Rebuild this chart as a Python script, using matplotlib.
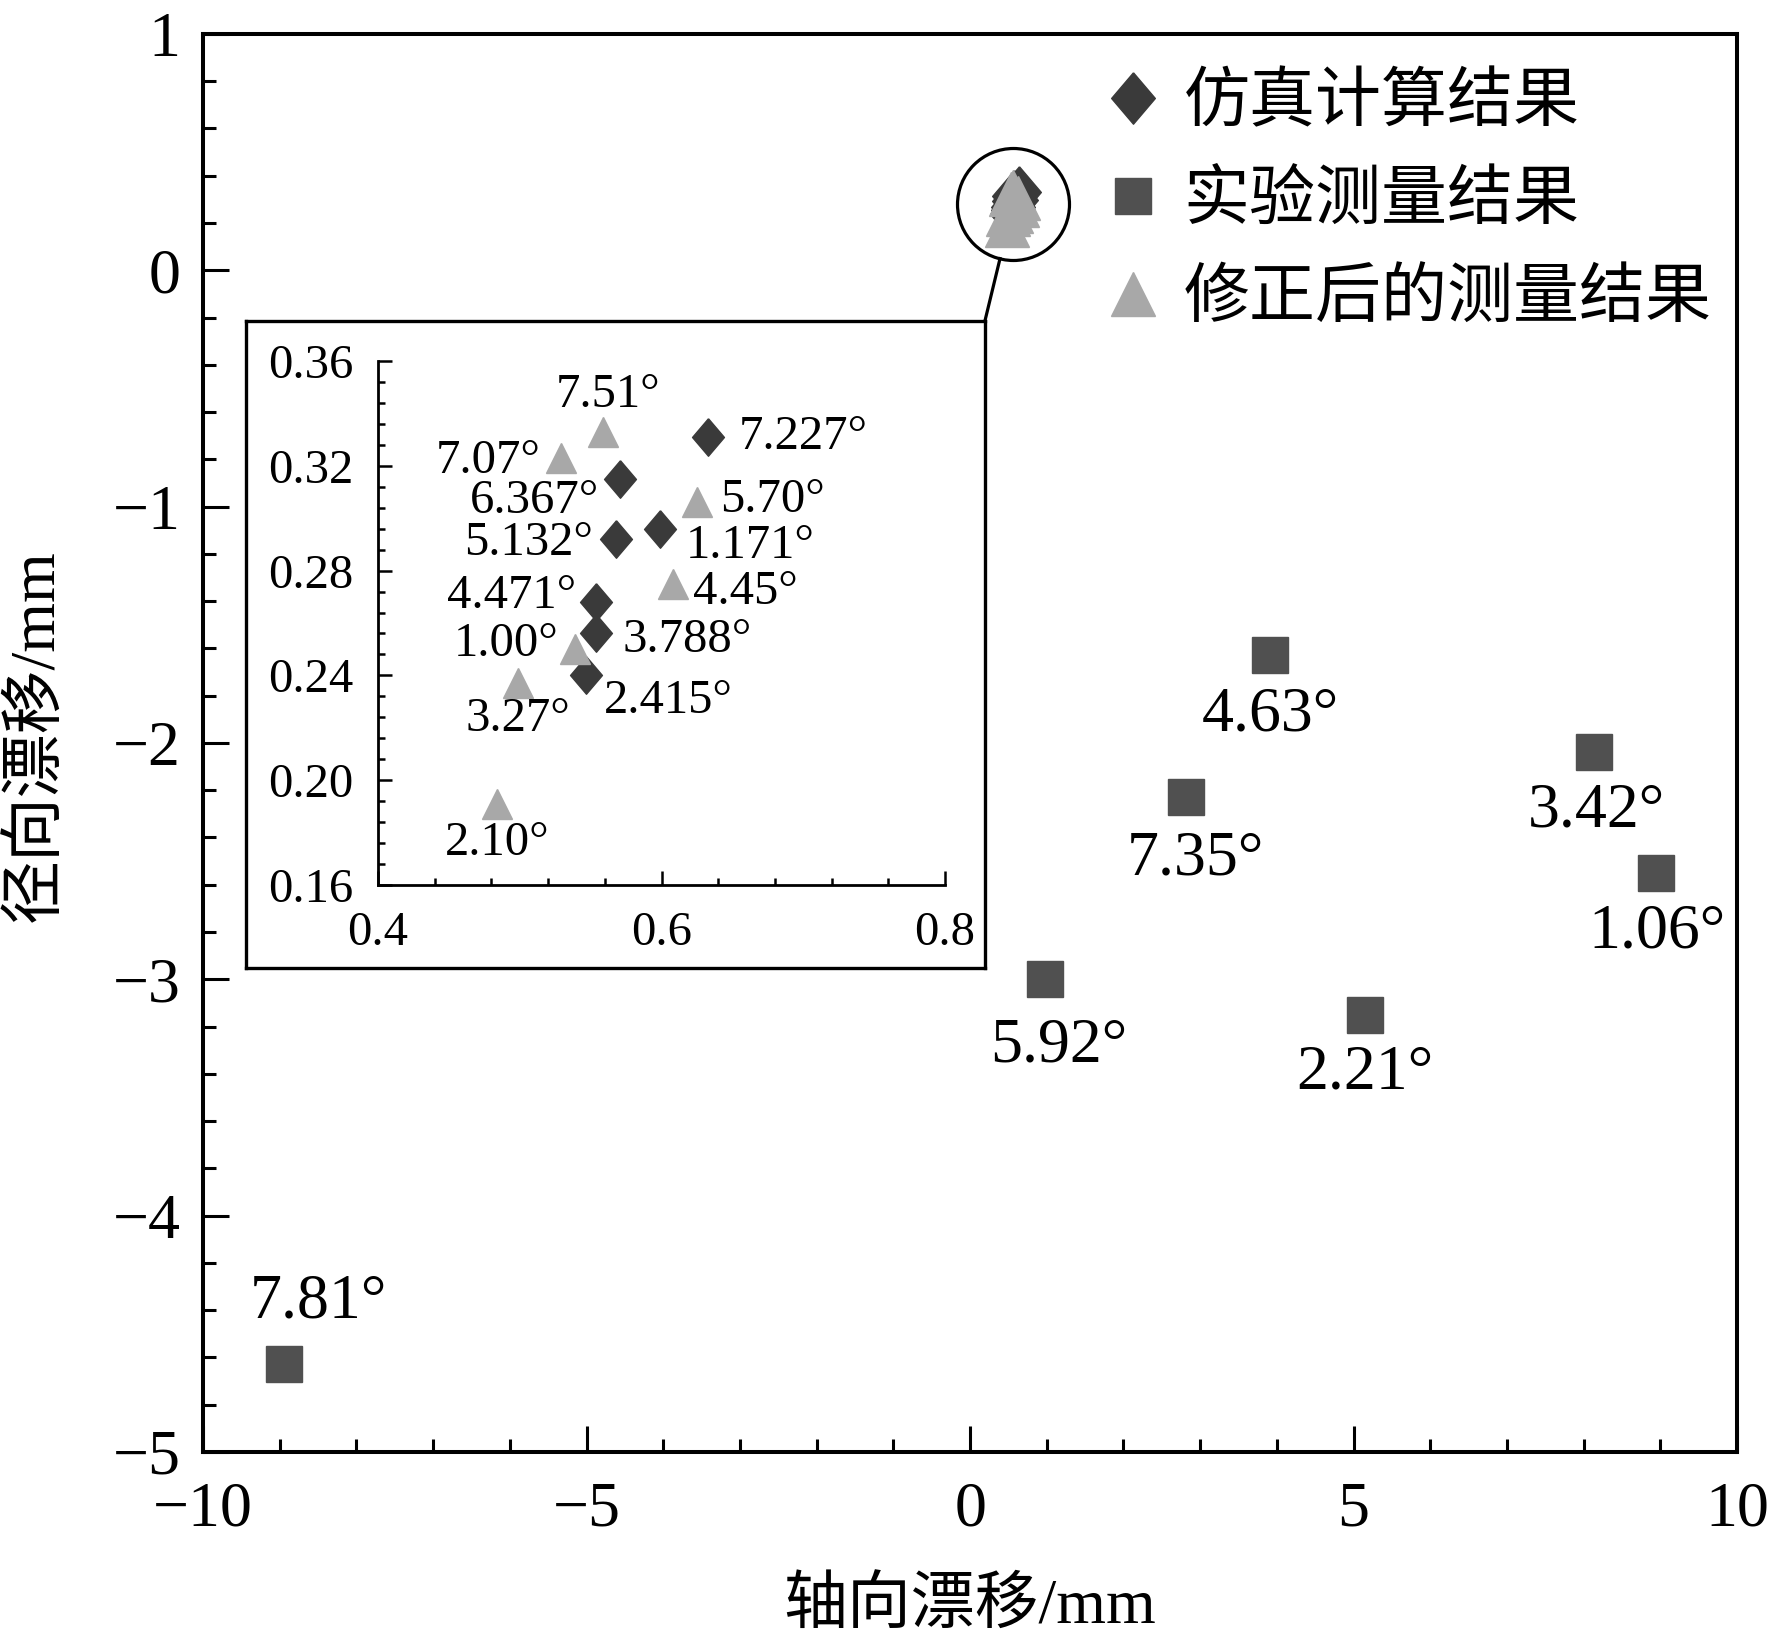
import numpy as np
import matplotlib
matplotlib.use('Agg')
import matplotlib.pyplot as plt
from matplotlib.lines import Line2D
from matplotlib.ticker import MultipleLocator

plt.rcParams['font.family'] = ['Liberation Serif', 'Noto Sans CJK SC']
plt.rcParams['axes.unicode_minus'] = True

# experimental measurements (main plot, squares)
exp_x = [-8.94, 0.98, 2.82, 3.91, 5.15, 8.13, 8.94]
exp_y = [-4.63, -3.00, -2.23, -1.63, -3.15, -2.04, -2.55]
exp_labels = ['7.81°', '5.92°', '7.35°', '4.63°', '2.21°', '3.42°', '1.06°']

# simulation results (diamonds)
sim_x = [0.633, 0.571, 0.568, 0.599, 0.554, 0.554, 0.547]
sim_y = [0.331, 0.315, 0.292, 0.296, 0.268, 0.256, 0.240]
sim_labels = ['7.227°', '6.367°', '5.132°', '1.171°', '4.471°', '3.788°', '2.415°']

# corrected measurements (triangles)
cor_x = [0.559, 0.529, 0.625, 0.608, 0.539, 0.499, 0.484]
cor_y = [0.333, 0.323, 0.306, 0.275, 0.250, 0.237, 0.191]
cor_labels = ['7.51°', '7.07°', '5.70°', '4.45°', '1.00°', '3.27°', '2.10°']

legend_labels = ['仿真计算结果', '实验测量结果', '修正后的测量结果']

# label placement (offset in pixels, horizontal alignment)
exp_offsets = [(34, 62), (14, -67), (9, -62), (0, -60), (0, -59), (3, -59), (1, -60)]
sim_offsets = [(30, 0, 'left'), (-21, -22, 'right'), (-23, -4, 'right'), (26, -17, 'left'),
               (-20, 6, 'right'), (26, -7, 'left'), (18, -26, 'left')]
cor_offsets = [(5, 37, 'center'), (-20, -3, 'right'), (23, 2, 'left'), (20, -8, 'left'),
               (-17, 5, 'right'), (0, -36, 'center'), (0, -39, 'center')]

C_SIM = '#3a3a3a'
C_EXP = '#505050'
C_COR = '#a8a8a8'
DIAMOND = [(0, 1), (0.85, 0), (0, -1), (-0.85, 0), (0, 1)]

DPI = 100
fig = plt.figure(figsize=(17.72, 16.46), dpi=DPI)

# ---------------- main axes ----------------
ax = fig.add_axes([0.1146, 0.1179, 0.8657, 0.8615])
ax.set_xlim(-10, 10)
ax.set_ylim(-5, 1)
for s in ax.spines.values():
    s.set_linewidth(2.9)
ax.xaxis.set_major_locator(MultipleLocator(5))
ax.xaxis.set_minor_locator(MultipleLocator(1))
ax.yaxis.set_major_locator(MultipleLocator(1))
ax.yaxis.set_minor_locator(MultipleLocator(0.2))
ax.tick_params(which='both', direction='in', width=2.2, labelsize=46)
ax.tick_params(which='major', length=19)
ax.tick_params(which='minor', length=9.5)
ax.tick_params(axis='x', pad=21)
ax.tick_params(axis='y', pad=16)

h_exp, = ax.plot(exp_x, exp_y, 's', ms=26.5, color=C_EXP, mec=C_EXP, ls='none')
h_sim, = ax.plot(sim_x, sim_y, marker=DIAMOND, ms=37, color=C_SIM, ls='none')
h_cor, = ax.plot(cor_x, cor_y, '^', ms=32, color=C_COR, ls='none')

for x, y, lbl, (dx, dy) in zip(exp_x, exp_y, exp_labels, exp_offsets):
    ax.annotate(lbl, (x, y), xytext=(dx, dy), textcoords='offset pixels',
                ha='center', va='center', fontsize=46)

# circle around the cluster
cx = np.mean(sim_x + cor_x)
cy = np.mean(sim_y + cor_y)
r_px = 56
ax.plot([cx], [cy], 'o', ms=2 * r_px * 72 / DPI, mfc='none', mec='black', mew=2.3)

fig.text(970 / 1772, 1 - 1608 / 1646, '轴向漂移/mm', ha='center', va='center', fontsize=46)
fig.text(38 / 1772, 1 - 736 / 1646, '径向漂移/mm', ha='center', va='center',
         rotation=90, fontsize=46)

ax.legend([h_sim, h_exp, h_cor], legend_labels, loc='upper left',
          bbox_to_anchor=(1107 / 1772, 1 - 74 / 1646), bbox_transform=fig.transFigure,
          frameon=False, prop={'size': 47.5}, handlelength=0.8, handletextpad=0.36,
          labelspacing=0.56, borderpad=0, borderaxespad=0)

# ---------------- inset ----------------
box = fig.add_axes([0.1388, 0.4119, 0.417, 0.393])
box.set_xticks([])
box.set_yticks([])
box.set_facecolor('white')
for s in box.spines.values():
    s.set_linewidth(2.4)

ins = fig.add_axes([378 / 1772, 1 - 885 / 1646, 567 / 1772, 524 / 1646])
ins.set_facecolor('none')
ins.set_xlim(0.4, 0.8)
ins.set_ylim(0.16, 0.36)
ins.spines['top'].set_visible(False)
ins.spines['right'].set_visible(False)
for s in ('left', 'bottom'):
    ins.spines[s].set_linewidth(2.0)
ins.xaxis.set_major_locator(MultipleLocator(0.2))
ins.xaxis.set_minor_locator(MultipleLocator(0.04))
ins.yaxis.set_major_locator(MultipleLocator(0.04))
ins.yaxis.set_minor_locator(MultipleLocator(0.008))
ins.xaxis.set_major_formatter(matplotlib.ticker.FormatStrFormatter('%.1f'))
ins.yaxis.set_major_formatter(matplotlib.ticker.FormatStrFormatter('%.2f'))
ins.tick_params(which='both', direction='in', width=1.8, labelsize=35)
ins.tick_params(which='major', length=10)
ins.tick_params(which='minor', length=5)
ins.tick_params(axis='x', pad=19)
ins.tick_params(axis='y', pad=18)

ins.plot(sim_x, sim_y, marker=DIAMOND, ms=27, color=C_SIM, ls='none', clip_on=False)
ins.plot(cor_x, cor_y, '^', ms=21, color=C_COR, ls='none', clip_on=False)

for x, y, lbl, (dx, dy, ha) in zip(sim_x, sim_y, sim_labels, sim_offsets):
    ins.annotate(lbl, (x, y), xytext=(dx, dy), textcoords='offset pixels',
                 ha=ha, va='center', fontsize=35)
for x, y, lbl, (dx, dy, ha) in zip(cor_x, cor_y, cor_labels, cor_offsets):
    ins.annotate(lbl, (x, y), xytext=(dx, dy), textcoords='offset pixels',
                 ha=ha, va='center', fontsize=35)

# connector from circle edge to inset corner
p = ax.transData.transform((cx, cy))
q = box.transAxes.transform((1, 1))
d = (q - p) / np.hypot(*(q - p))
e = p + d * r_px * DPI / 100
pts = fig.transFigure.inverted().transform(np.vstack([e, q]))
fig.add_artist(Line2D(pts[:, 0], pts[:, 1], color='black', lw=2.3))

fig.savefig('out.png', dpi=DPI)
